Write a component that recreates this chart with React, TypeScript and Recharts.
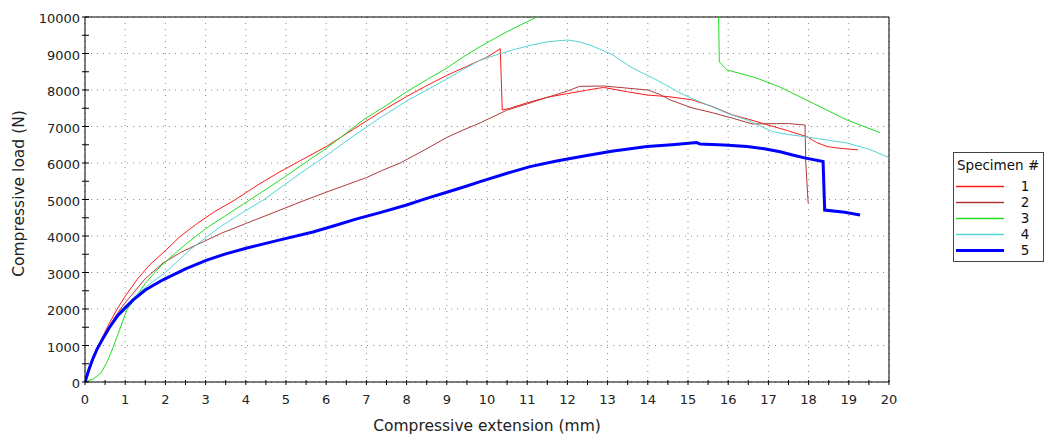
import React from 'react';
import { LineChart, Line, XAxis, YAxis, CartesianGrid, ReferenceLine, Legend } from 'recharts';

const xTicks = [0, 0.5, 1, 1.5, 2, 2.5, 3, 3.5, 4, 4.5, 5, 5.5, 6, 6.5, 7, 7.5, 8, 8.5, 9, 9.5, 10, 10.5, 11, 11.5, 12, 12.5, 13, 13.5, 14, 14.5, 15, 15.5, 16, 16.5, 17, 17.5, 18, 18.5, 19, 19.5, 20];
const xGrid = [0, 1, 2, 3, 4, 5, 6, 7, 8, 9, 10, 11, 12, 13, 14, 15, 16, 17, 18, 19, 20];
const yTicks = [0, 500, 1000, 1500, 2000, 2500, 3000, 3500, 4000, 4500, 5000, 5500, 6000, 6500, 7000, 7500, 8000, 8500, 9000, 9500, 10000];
const yGrid = [0, 1000, 2000, 3000, 4000, 5000, 6000, 7000, 8000, 9000, 10000];

const s1X = [0, 0.2, 0.4, 0.6, 0.8, 1.0, 1.29, 1.6, 2.0, 2.36, 2.8, 3.2, 3.73, 4.3, 4.85, 5.5, 6, 6.5, 7, 7.5, 8, 8.5, 9, 9.5, 10, 10.33, 10.38, 10.57, 11, 11.5, 12, 12.5, 12.9, 13.5, 14, 14.5, 15.1, 15.6, 16.1, 16.5, 17, 17.5, 17.96, 18.2, 18.46, 18.8, 19.23];
const s1Y = [0, 600, 1150, 1600, 2000, 2350, 2800, 3200, 3600, 3980, 4350, 4650, 4990, 5400, 5760, 6150, 6450, 6800, 7150, 7500, 7820, 8120, 8400, 8650, 8900, 9130, 7450, 7500, 7650, 7800, 7900, 8000, 8070, 7950, 7860, 7820, 7730, 7550, 7320, 7200, 7040, 6880, 6720, 6560, 6450, 6400, 6360];

const s2X = [0, 0.15, 0.3, 0.5, 0.7, 0.9, 1.12, 1.5, 1.94, 2.4, 2.86, 3.4, 4.02, 4.85, 5.4, 6, 6.5, 7, 7.4, 7.84, 8.4, 9, 9.4, 9.83, 10.5, 11, 11.5, 12, 12.3, 12.9, 13.5, 14, 14.3, 14.55, 15.1, 15.6, 16.1, 16.6, 17.2, 17.5, 17.91, 17.93, 17.99];
const s2Y = [0, 500, 900, 1330, 1700, 2030, 2330, 2830, 3260, 3560, 3800, 4080, 4350, 4710, 4950, 5200, 5400, 5600, 5800, 6000, 6330, 6700, 6900, 7100, 7450, 7620, 7800, 7970, 8100, 8110, 8050, 8000, 7880, 7730, 7510, 7380, 7230, 7070, 7080, 7080, 7040, 6000, 4900];

const s3X = [0, 0.2, 0.4, 0.55, 0.7, 0.85, 1.04, 1.25, 1.5, 1.8, 2.11, 2.5, 3, 3.5, 4.1, 4.85, 5.4, 6, 6.5, 6.92, 7.5, 8, 8.5, 9, 9.4, 9.83, 10.5, 11.24, 12, 13, 14, 15, 15.75, 15.78, 15.97, 16.7, 17.29, 18.1, 18.95, 19.78];
const s3Y = [0, 80, 250, 550, 950, 1400, 1970, 2300, 2700, 3080, 3400, 3770, 4200, 4560, 4990, 5530, 5950, 6400, 6820, 7180, 7580, 7950, 8280, 8600, 8900, 9190, 9600, 10000, 10400, 10800, 11000, 10900, 10700, 8770, 8550, 8330, 8080, 7640, 7180, 6830];

const s4X = [0, 0.15, 0.3, 0.5, 0.7, 0.95, 1.2, 1.6, 2, 2.61, 3, 3.36, 3.9, 4.44, 4.85, 5.4, 6, 6.6, 7.26, 8, 8.5, 9, 9.4, 9.83, 10.2, 10.65, 11.1, 11.5, 12, 12.3, 12.56, 12.85, 13.13, 13.56, 13.9, 14.23, 14.8, 15.2, 15.62, 16, 16.47, 17.1, 17.5, 18.1, 18.5, 18.95, 19.5, 19.98];
const s4Y = [0, 500, 900, 1330, 1700, 2030, 2300, 2680, 3000, 3620, 3950, 4250, 4630, 4990, 5315, 5750, 6200, 6680, 7180, 7700, 8000, 8300, 8560, 8820, 8950, 9100, 9230, 9320, 9370, 9320, 9230, 9100, 8960, 8640, 8450, 8270, 7920, 7720, 7530, 7350, 7180, 6860, 6780, 6690, 6620, 6550, 6380, 6160];

const s5X = [0, 0.1, 0.2, 0.3, 0.45, 0.6, 0.8, 1.0, 1.2, 1.5, 1.94, 2.5, 3.03, 3.5, 4.03, 4.8, 5.67, 6.2, 6.76, 7.34, 8, 8.5, 9, 9.5, 9.83, 10.5, 11.07, 11.7, 12.31, 13.1, 13.98, 14.6, 15.22, 15.3, 15.9, 16.47, 16.9, 17.29, 17.6, 17.9, 18.36, 18.4, 18.9, 19.28];
const s5Y = [0, 350, 650, 900, 1200, 1480, 1800, 2030, 2250, 2520, 2800, 3100, 3340, 3510, 3670, 3880, 4110, 4280, 4470, 4640, 4850, 5030, 5200, 5370, 5490, 5720, 5900, 6050, 6170, 6320, 6450, 6500, 6560, 6520, 6490, 6450, 6390, 6310, 6220, 6140, 6040, 4710, 4650, 4575];

const names = ['1', '2', '3', '4', '5'];
const colors = ['#ff1a1a', '#b03a3a', '#22dd22', '#55d4d4', '#0000ff'];
const widths = [1, 1, 1, 1, 3];
const allX = [s1X, s2X, s3X, s4X, s5X];
const allY = [s1Y, s2Y, s3Y, s4Y, s5Y];

const series = names.map((name, i) => ({
  name,
  color: colors[i],
  width: widths[i],
  data: allX[i].map((x, j) => ({ x, y: allY[i][j] })),
}));

const FONT = '"DejaVu Sans", Verdana, sans-serif';

const XTick = (props: any) => {
  const { x, y, payload } = props;
  const v = payload.value;
  const major = Number.isInteger(v);
  return (
    <g>
      <line x1={x} x2={x} y1={y - 2} y2={y + 3} stroke="#000" strokeWidth={1} />
      {major && (
        <text x={x} y={y + 22} textAnchor="middle" fontFamily={FONT} fontSize={13} fill="#222">
          {v}
        </text>
      )}
    </g>
  );
};

const YTick = (props: any) => {
  const { x, y, payload } = props;
  const v = payload.value;
  const major = v % 1000 === 0;
  return (
    <g>
      <line x1={x - 3} x2={x + 4} y1={y} y2={y} stroke="#000" strokeWidth={1} />
      {major && (
        <text x={x - 5} y={y + 6} textAnchor="end" fontFamily={FONT} fontSize={13} fill="#222">
          {v}
        </text>
      )}
    </g>
  );
};

const YLabel = (props: any) => {
  const { viewBox } = props;
  const cx = viewBox.x + 19;
  const cy = viewBox.y + viewBox.height / 2 - 6;
  return (
    <text
      x={cx}
      y={cy}
      transform={`rotate(-90, ${cx}, ${cy})`}
      textAnchor="middle"
      dominantBaseline="central"
      fontFamily={FONT}
      fontSize={15.5}
      fill="#222"
    >
      Compressive load (N)
    </text>
  );
};

const LegendBox = () => (
  <div
    style={{
      position: 'relative',
      width: 91,
      height: 110,
      boxSizing: 'border-box',
      border: '1px solid #444',
      background: '#fff',
      fontFamily: FONT,
      fontSize: 13.5,
      color: '#111',
    }}
  >
    <div style={{ position: 'absolute', left: 3, top: 3, lineHeight: '18px', whiteSpace: 'nowrap' }}>Specimen #</div>
    {series.map((s, i) => (
      <div key={s.name} style={{ position: 'absolute', left: 0, top: 25 + 16 * i, width: 89, height: 16 }}>
        <svg width={52} height={16} style={{ position: 'absolute', left: 0, top: 0 }}>
          <line x1={2} x2={50} y1={8.5} y2={8.5} stroke={s.color} strokeWidth={s.width === 1 ? 1.3 : s.width} />
        </svg>
        <div style={{ position: 'absolute', left: 64, width: 14, textAlign: 'center', lineHeight: '16px' }}>{s.name}</div>
      </div>
    ))}
  </div>
);

export default function App() {
  return (
    <div style={{ position: 'absolute', left: 0, top: 0, background: '#fff' }}>
      <LineChart width={1044} height={437} margin={{ top: 17, right: 155, bottom: 0, left: 0 }}>
        <CartesianGrid xAxisId="g" yAxisId="g" stroke="#8a8a8a" strokeDasharray="1 5" />
        <XAxis xAxisId="g" type="number" dataKey="x" domain={[0, 20]} ticks={xGrid} hide allowDataOverflow />
        <YAxis yAxisId="g" type="number" domain={[0, 10000]} ticks={yGrid} hide allowDataOverflow />
        <XAxis
          type="number"
          dataKey="x"
          domain={[0, 20]}
          ticks={xTicks}
          interval={0}
          allowDataOverflow
          height={55}
          tickSize={0}
          tickMargin={0}
          tickLine={false}
          tick={<XTick />}
          stroke="#000"
          label={{
            value: 'Compressive extension (mm)',
            position: 'insideBottom',
            offset: 6,
            fontFamily: FONT,
            fontSize: 15.5,
            fill: '#222',
          }}
        />
        <YAxis
          type="number"
          domain={[0, 10000]}
          ticks={yTicks}
          interval={0}
          allowDataOverflow
          width={85}
          tickSize={0}
          tickMargin={0}
          tickLine={false}
          tick={<YTick />}
          stroke="#000"
          label={<YLabel />}
        />
        <ReferenceLine y={10000} stroke="#000" strokeWidth={1} />
        <ReferenceLine x={20} stroke="#000" strokeWidth={1} />
        {series.map((s) => (
          <Line
            key={s.name}
            data={s.data}
            dataKey="y"
            name={s.name}
            type="linear"
            stroke={s.color}
            strokeWidth={s.width}
            dot={false}
            activeDot={false}
            isAnimationActive={false}
          />
        ))}
        <Legend
          layout="vertical"
          align="center"
          verticalAlign="middle"
          content={<LegendBox />}
          wrapperStyle={{ position: 'absolute', left: 953, top: 152, width: 91, height: 110 }}
        />
      </LineChart>
    </div>
  );
}
